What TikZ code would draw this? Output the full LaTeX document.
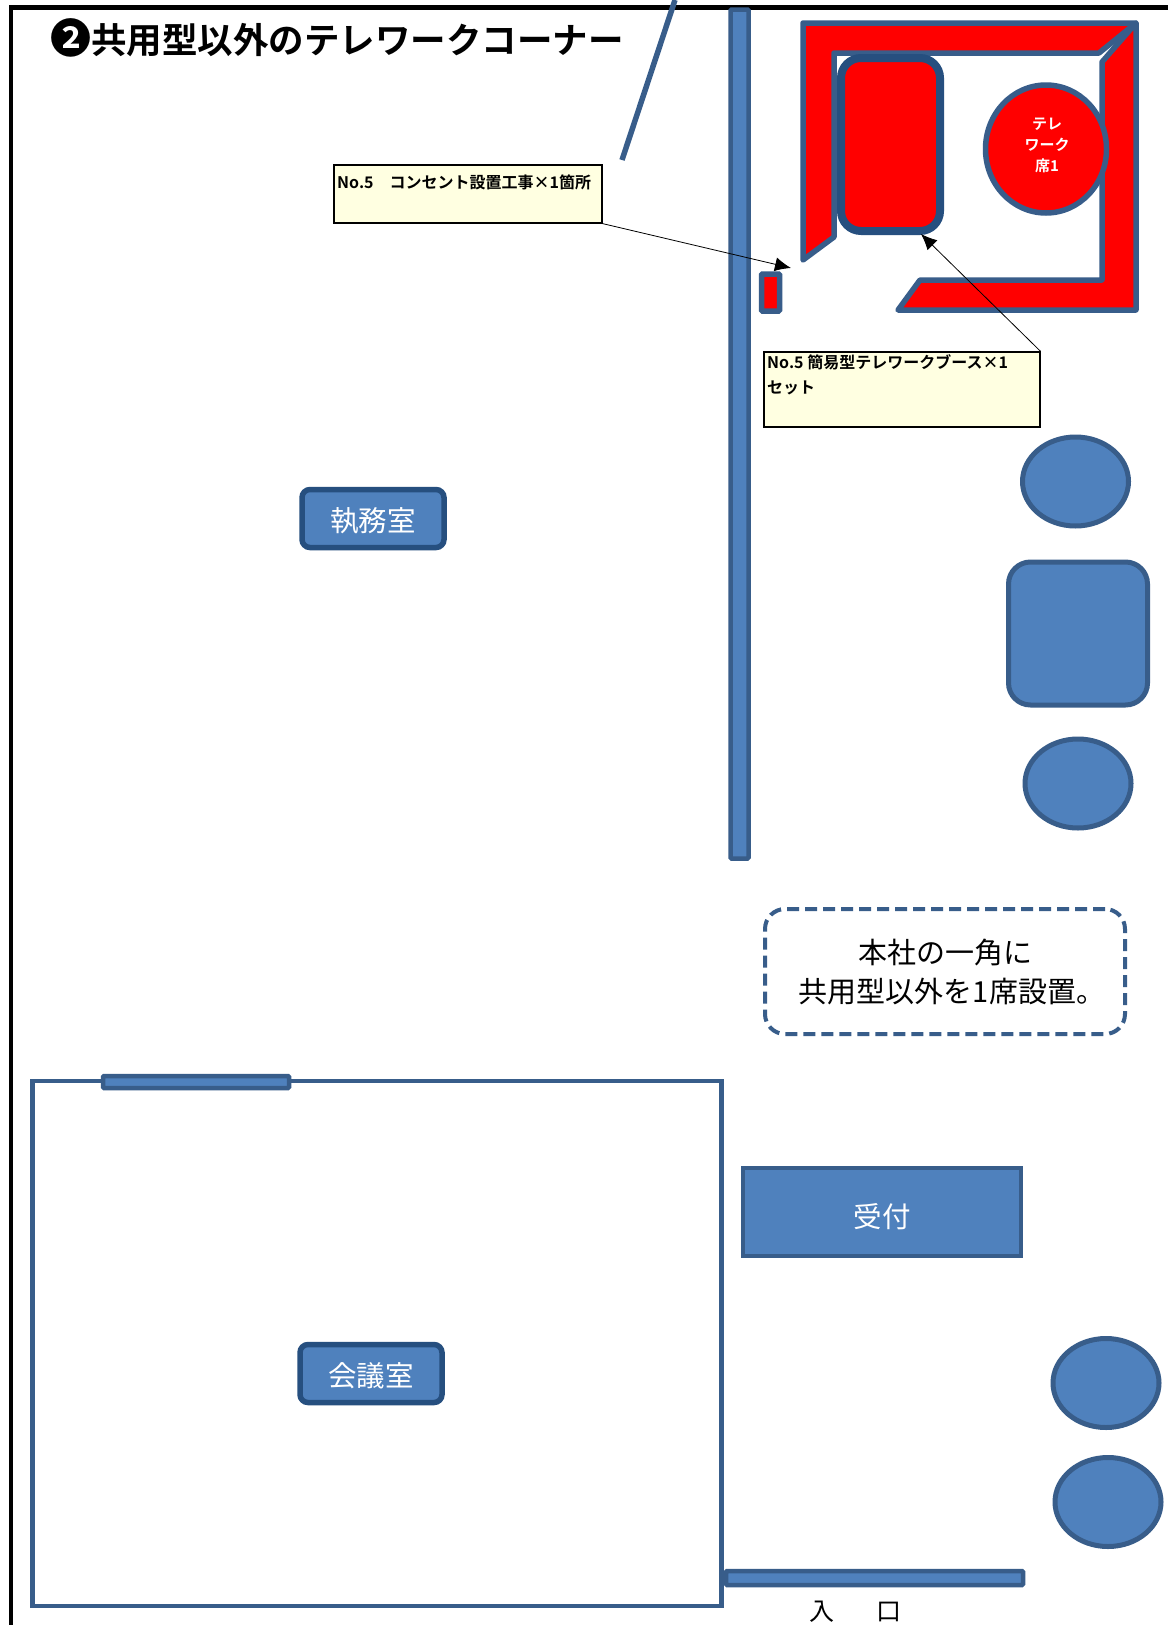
\documentclass[tikz,border=0pt]{standalone}
\usepackage{fontspec}
\usetikzlibrary{arrows.meta,shapes.geometric}
\setmainfont{Noto Sans CJK JP}
\newfontfamily\cjkb{Noto Sans CJK JP Bold}
\definecolor{wline}{HTML}{385D8A}
\definecolor{dline}{HTML}{264F7F}
\definecolor{bfill}{HTML}{4F81BD}
\definecolor{nfill}{HTML}{FFFFE1}
\tikzset{
 px/.style={x=1pt,y=-1pt},
 wall/.style={draw=wline,fill=bfill,line width=4.5pt,rounded corners=1pt},
 redshape/.style={draw=wline,fill=red,line width=5.5pt,line join=round},
 room/.style={draw=dline,fill=bfill,line width=5.5pt,rounded corners=8pt,minimum width=142pt,minimum height=58pt},
 seat/.style={draw=wline,fill=bfill,line width=5pt,ellipse,inner sep=0pt,minimum width=106pt,minimum height=89pt},
 note/.style={draw=black,fill=nfill,line width=1.2pt,inner sep=0pt},
 notetext/.style={inner sep=0pt,anchor=west,font=\cjkb\fontsize{16}{16}\selectfont},
 lab/.style={text=white,font=\fontsize{28.5}{30}\selectfont,inner sep=0pt},
 lead/.style={draw=black,line width=0.8pt,-{Latex[length=16pt,width=14pt]}}
}
\begin{document}
\begin{tikzpicture}[px]
\useasboundingbox (0,0) rectangle (1168,1625);
\fill[white] (0,0) rectangle (1168,1625);
% frame
\draw[black,line width=4.5pt] (11,1625) -- (11,7.5) -- (1168,7.5);
% title
\node[anchor=west,inner sep=0pt,font=\cjkb\fontsize{35.5}{36}\selectfont] (title) at (50,38) {{\fontsize{41}{36}\selectfont ❷}共用型以外のテレワークコーナー};
% wall
\node[wall,minimum width=18pt,minimum height=849pt,inner sep=0pt] (wallv) at (739.5,434) {};
% long line
\coordinate (lt) at (675,0);
\coordinate (lb) at (622,160);
\draw[wline,line width=5.5pt] (lt) -- (lb);
% booth
\draw[redshape] (803,23) -- (1136,23) -- (1099,53) -- (834,53) -- (834,237) -- (803,260) -- cycle;
\draw[redshape] (1136,23) -- (1136,310) -- (898,310) -- (920,280) -- (1102,280) -- (1102,62) -- cycle;
\node[draw=dline,fill=red,line width=8pt,rounded corners=20pt,minimum width=99pt,minimum height=173pt,inner sep=0pt] (desk) at (890.5,144.5) {};
\node[draw=wline,fill=red,line width=5.5pt,ellipse,minimum width=121pt,minimum height=128pt,inner sep=0pt] (seatred) at (1046,149) {};
\node[text=white,font=\cjkb\fontsize{15}{21}\selectfont,align=center,inner sep=0pt] (seatlab) at (1047,145.5) {テレ\\ワーク\\席1};
\node[draw=wline,fill=red,line width=5.5pt,rounded corners=1pt,minimum width=18pt,minimum height=37pt,inner sep=0pt] (socket) at (770.5,292.5) {};
% notes
\node[note,minimum width=268pt,minimum height=58pt] (n1) at (468,194) {};
\node[notetext] (n1t) at (337,182) {No.5　コンセント設置工事×1箇所};
\node[note,minimum width=276pt,minimum height=75pt] (n2) at (902,389.5) {};
\node[notetext] (n2a) at (767,362) {No.5 簡易型テレワークブース×1};
\node[notetext] (n2b) at (767,388) {セット};
\coordinate (a1) at (791,268);
\coordinate (a2) at (921,234);
\draw[lead] (n1.south east) -- (a1);
\draw[lead] (n2.north east) -- (a2);
% rooms
\node[room] (r1) at (373,518.5) {};
\node[lab] (r1t) at (373,520.5) {執務室};
\node[seat] (s1) at (1075.5,481.5) {};
\node[seat,rounded corners=22pt,rectangle,minimum width=139pt,minimum height=143pt] (s2) at (1078,633.5) {};
\node[seat] (s3) at (1078,783.5) {};
\node[draw=wline,line width=4pt,dash pattern=on 12pt off 6pt,rounded corners=20pt,minimum width=360pt,minimum height=125pt,inner sep=0pt,align=center,font=\fontsize{29}{39}\selectfont] (info) at (945,971.5) {本社の一角に\\\hspace*{14pt}共用型以外を1席設置。};
\node[draw=wline,line width=4.5pt,minimum width=689pt,minimum height=525pt,inner sep=0pt] (meeting) at (377,1343.5) {};
\node[wall,minimum width=186pt,minimum height=12pt,inner sep=0pt] (d1) at (196,1082) {};
\node[room] (r2) at (371,1373.5) {};
\node[lab] (r2t) at (371,1375.5) {会議室};
\node[draw=wline,fill=bfill,line width=4.5pt,minimum width=278pt,minimum height=88pt,inner sep=0pt] (r3) at (882,1212) {};
\node[lab] (r3t) at (882,1217) {受付};
\node[seat] (s4) at (1106,1383) {};
\node[seat] (s5) at (1108,1502) {};
\node[wall,minimum width=297pt,minimum height=14pt,inner sep=0pt] (d2) at (874.5,1578) {};
\node[inner sep=0pt,font=\fontsize{25}{25}\selectfont] (ent) at (855,1612) {入\hspace{42pt}口};
\end{tikzpicture}
\end{document}
